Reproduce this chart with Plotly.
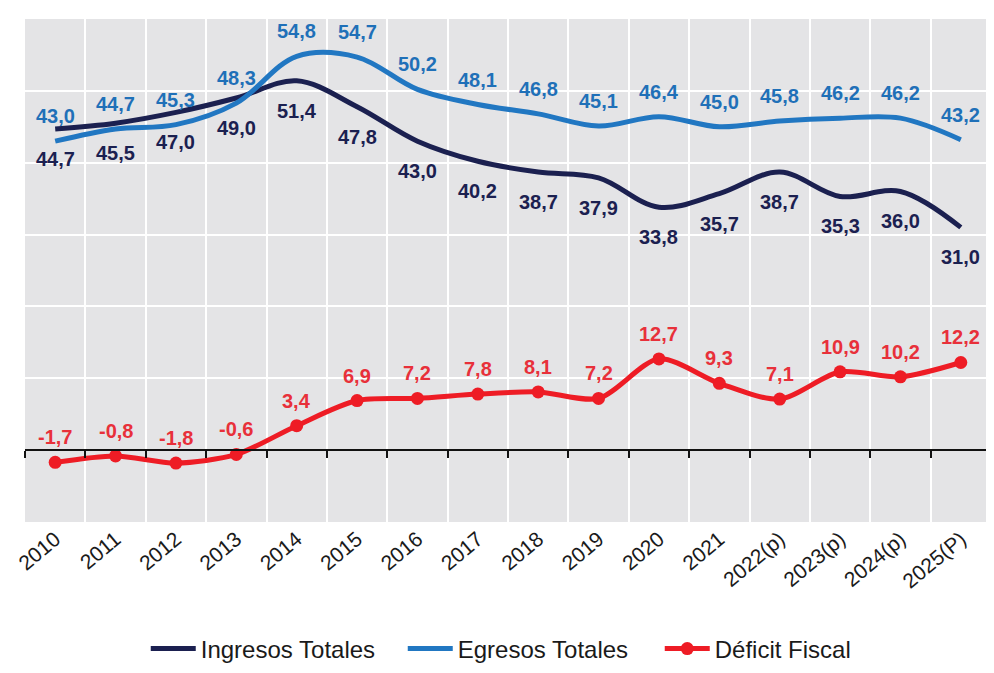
import plotly.graph_objects as go

years = ["2010", "2011", "2012", "2013", "2014", "2015", "2016", "2017",
         "2018", "2019", "2020", "2021", "2022(p)", "2023(p)", "2024(p)", "2025(P)"]
ingresos = [44.7, 45.5, 47.0, 49.0, 51.4, 47.8, 43.0, 40.2,
            38.7, 37.9, 33.8, 35.7, 38.7, 35.3, 36.0, 31.0]
egresos = [43.0, 44.7, 45.3, 48.3, 54.8, 54.7, 50.2, 48.1,
           46.8, 45.1, 46.4, 45.0, 45.8, 46.2, 46.2, 43.2]
deficit = [-1.7, -0.8, -1.8, -0.6, 3.4, 6.9, 7.2, 7.8,
           8.1, 7.2, 12.7, 9.3, 7.1, 10.9, 10.2, 12.2]

NAVY = "#1b2050"
BLUE = "#2177c2"
RED = "#ee1c25"
FONT = "Liberation Sans, Arial, sans-serif"

fig = go.Figure()
fig.add_trace(go.Scatter(x=years, y=ingresos, name="Ingresos Totales", mode="lines",
                         line=dict(color=NAVY, width=5, shape="spline", smoothing=1.0)))
fig.add_trace(go.Scatter(x=years, y=egresos, name="Egresos Totales", mode="lines",
                         line=dict(color=BLUE, width=5, shape="spline", smoothing=1.0)))
fig.add_trace(go.Scatter(x=years, y=deficit, name="Déficit Fiscal", mode="lines+markers",
                         line=dict(color=RED, width=5, shape="spline", smoothing=0.8),
                         marker=dict(color=RED, size=13)))
# invisible trace so the zero-level axis (x2) gets drawn
fig.add_trace(go.Scatter(x=years, y=deficit, xaxis="x2", mode="lines",
                         line=dict(width=0), showlegend=False, hoverinfo="skip"))


def fmt(v):
    return f"{v:.1f}".replace(".", ",")


annos = []
for series, color, shift in ((ingresos, NAVY, -30), (egresos, "#1f70b8", 25), (deficit, "#e8303a", 25)):
    for i, v in enumerate(series):
        # category index, so "2010" is not read as a number
        annos.append(dict(x=i, y=v, xref="x", yref="y", text=fmt(v), showarrow=False, yshift=shift,
                          font=dict(family=FONT, size=20, color=color, weight="bold")))

# page body has an 8px margin, margins below allow for it
fig.update_layout(
    width=994, height=673,
    margin=dict(l=17, r=11, t=11, b=158),
    paper_bgcolor="white",
    plot_bgcolor="#e4e4e6",
    font=dict(family=FONT, color="#1a1a1a"),
    annotations=annos,
    showlegend=True,
    legend=dict(orientation="h", x=0.125, xanchor="left", y=-0.25, yanchor="middle",
                font=dict(size=24, color="#1a1a1a"), itemwidth=45,
                entrywidth=197, entrywidthmode="pixels", bgcolor="rgba(0,0,0,0)"),
    xaxis=dict(type="category", categoryorder="array", categoryarray=years,
               range=[-0.5, 15.5], tickson="boundaries", showgrid=True, automargin=False,
               gridcolor="white", gridwidth=2, ticks="", showline=False,
               tickangle=-40, tickfont=dict(size=21, color="#1a1a1a")),
    xaxis2=dict(type="category", categoryorder="array", categoryarray=years,
                overlaying="x", anchor="free", position=10 / 70, side="bottom",
                range=[-0.5, 15.5], tickson="boundaries", showgrid=False, automargin=False,
                showline=True, linecolor="#111111", linewidth=1.5,
                ticks="outside", ticklen=7, tickcolor="#111111", tickwidth=1.5,
                showticklabels=False),
    yaxis=dict(range=[-10, 60], dtick=10, showgrid=True, gridcolor="white", gridwidth=2,
               zeroline=False, showticklabels=False, ticks="", automargin=False),
)

fig.write_html("out.html")
